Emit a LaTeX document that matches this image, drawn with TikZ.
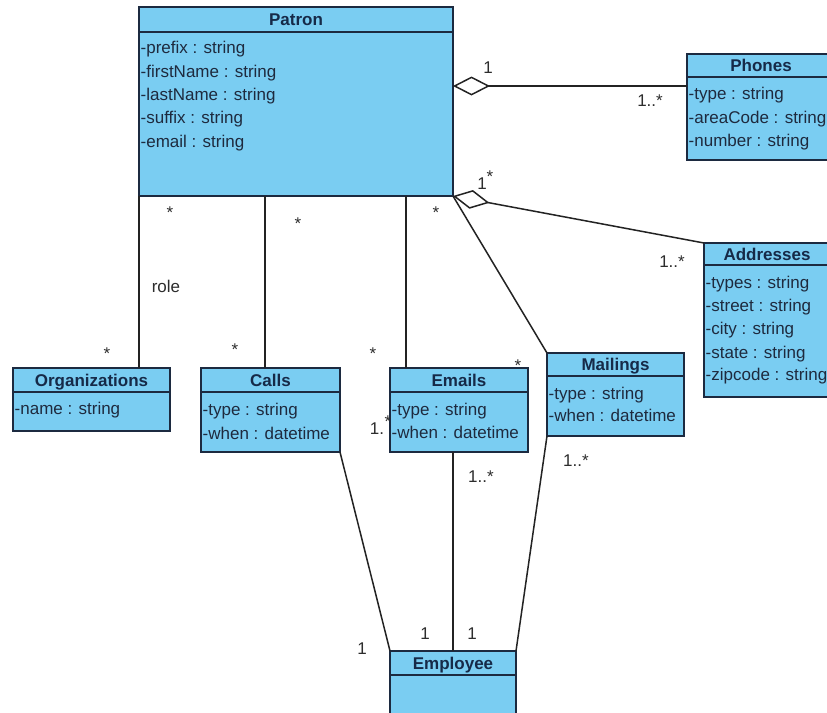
\documentclass[tikz,border=0pt]{standalone}
\usepackage{fontspec}
\setmainfont{Liberation Sans}
\usetikzlibrary{arrows.meta,calc}

\definecolor{clsfill}{RGB}{122,205,242}
\definecolor{clsedge}{RGB}{28,42,64}
\definecolor{titleink}{RGB}{22,42,72}
\definecolor{attrink}{RGB}{30,42,62}
\definecolor{labelink}{RGB}{45,45,45}
\definecolor{wire}{RGB}{35,35,35}

% #1 name, #2/#3 top-left corner, #4 width, #5 height, #6 header height, #7 title
\newcommand\ClassBox[7]{%
  \node[clsbox, minimum width=#4pt, minimum height=#5pt] (#1) at (#2,#3) {};
  \draw[clsrule] ([yshift=-#6pt]#1.north west) -- ([yshift=-#6pt]#1.north east);
  \node[clstitle] (#1-title) at ([yshift=-#6pt/2]#1.north) {#7};
}
% #1 class, #2 node name, #3 offset of the text centre below the top edge, #4 text
\newcommand\Attr[4]{%
  \node[attr] (#2) at ([xshift=1.5pt,yshift=-#3pt]#1.north west) {#4};
}
% a lone "*" multiplicity, lowered so that its node box hugs the glyph
\newcommand\StarMark[2]{%
  \node[starmark] (#1) at (#2) {\raisebox{-7.6pt}{*}};
}

\begin{document}
\begin{tikzpicture}[x=1pt,y=-1pt,
  clsbox/.style={rectangle, draw=clsedge, fill=clsfill, line width=1.4pt,
    anchor=north west, inner sep=0pt, outer sep=0pt},
  clsrule/.style={draw=clsedge, line width=1.4pt},
  clstitle/.style={font=\fontsize{17}{20}\selectfont\bfseries, text=titleink,
    inner sep=0pt, text height=12.2pt, text depth=0pt},
  attr/.style={font=\fontsize{17}{20}\selectfont, text=attrink, anchor=west,
    inner sep=0pt, text height=12.2pt, text depth=0pt},
  mult/.style={font=\fontsize{17}{20}\selectfont, text=labelink,
    inner sep=0pt, text height=12.2pt, text depth=0pt},
  starmark/.style={font=\fontsize{17}{20}\selectfont, text=labelink,
    inner sep=0pt, text height=4.6pt, text depth=0pt},
  assoc/.style={draw=wire, line width=1.5pt},
  aggr/.style={assoc, {Diamond[open, length=37pt, width=19pt]}-}
]
\useasboundingbox (0,0) rectangle (827,712);
\fill[white] (0,0) rectangle (827,712);
\clip (0,0) rectangle (827,712);

% ---------- classes ----------
\ClassBox{patron}{139}{7}{314}{189}{25}{Patron}
\ClassBox{phones}{687}{54}{148}{106}{23}{Phones}
\ClassBox{addresses}{704}{243}{126}{154}{22}{Addresses}
\ClassBox{organizations}{13}{368}{157}{63}{24}{Organizations}
\ClassBox{calls}{201}{368}{139}{84}{24}{Calls}
\ClassBox{emails}{390}{368}{138}{84}{24}{Emails}
\ClassBox{mailings}{547}{353}{137}{83}{23}{Mailings}
\ClassBox{employee}{390}{651}{126}{70}{24}{Employee}

% ---------- associations ----------
\coordinate (phonesjoin) at ([yshift=-79pt]patron.north east);
\coordinate (callsjoin) at ([xshift=126pt]patron.south west);
\coordinate (emailsjoin) at ([xshift=267pt]patron.south west);

\draw[aggr] (phonesjoin) -- (phonesjoin -| phones.west);
\draw[aggr] (patron.south east) -- (addresses.north west);
\draw[assoc] (patron.south east) -- (mailings.north west);
\draw[assoc] (patron.south west) -- (patron.south west |- organizations.north);
\draw[assoc] (callsjoin) -- (callsjoin |- calls.north);
\draw[assoc] (emailsjoin) -- (emailsjoin |- emails.north);
\draw[assoc] (calls.south east) -- (employee.north west);
\draw[assoc] (employee.north |- emails.south) -- (employee.north);
\draw[assoc] (mailings.south west) -- (employee.north east);

% ---------- attributes ----------
\Attr{patron}{pa1}{40}{-prefix : string}
\Attr{patron}{pa2}{64}{-firstName : string}
\Attr{patron}{pa3}{87}{-lastName : string}
\Attr{patron}{pa4}{110}{-suffix : string}
\Attr{patron}{pa5}{134}{-email : string}

\Attr{phones}{ph1}{39}{-type : string}
\Attr{phones}{ph2}{63}{-areaCode : string}
\Attr{phones}{ph3}{86}{-number : string}

\Attr{addresses}{ad1}{39}{-types : string}
\Attr{addresses}{ad2}{62}{-street : string}
\Attr{addresses}{ad3}{85}{-city : string}
\Attr{addresses}{ad4}{109}{-state : string}
\Attr{addresses}{ad5}{131}{-zipcode : string}

\Attr{organizations}{or1}{40}{-name : string}

\Attr{calls}{ca1}{41}{-type : string}
\Attr{calls}{ca2}{65}{-when : datetime}

\Attr{emails}{em1}{41}{-type : string}
\Attr{emails}{em2}{64}{-when : datetime}

\Attr{mailings}{ma1}{40}{-type : string}
\Attr{mailings}{ma2}{62}{-when : datetime}

% ---------- multiplicities and roles ----------
\node[mult] (m1) at (488,67) {1};
\node[mult] (m2) at (650,100) {1..*};
\node[mult] (m3) at (482,183) {1};
\StarMark{m4}{490,173}
\node[mult] (m5) at (672,261) {1..*};
\StarMark{m6}{170,209}
\StarMark{m7}{298,220}
\node[mult] (m8) at (166,286) {role};
\StarMark{m9}{107,350}
\StarMark{m10}{235,346}
\StarMark{m11}{436,209}
\StarMark{m12}{373,350}
\StarMark{m13}{518,362}
\node[mult] (m14) at (377,428) {1.};
\StarMark{m15}{388,418}
\node[mult] (m16) at (481,476) {1..*};
\node[mult] (m17) at (576,460) {1..*};
\node[mult] (m18) at (362,648) {1};
\node[mult] (m19) at (425,633) {1};
\node[mult] (m20) at (472,633) {1};
\end{tikzpicture}
\end{document}
